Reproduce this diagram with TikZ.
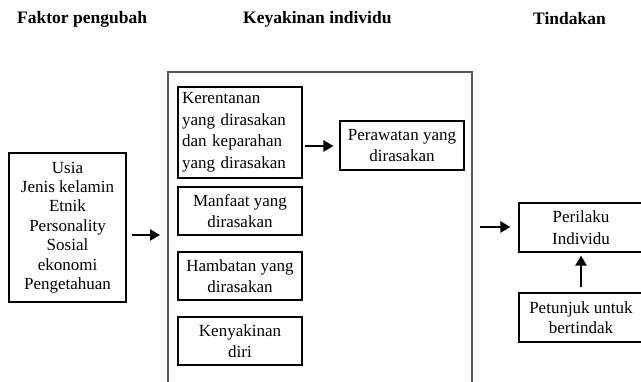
\documentclass[tikz,border=0pt]{standalone}
\usepackage{fontspec}
\setmainfont{Liberation Serif}
\usetikzlibrary{arrows.meta}
\begin{document}
\begin{tikzpicture}[x=1pt,y=-1pt,
  box/.style={draw=black, line width=1.1pt, inner sep=0pt, align=center, font=\fontsize{17}{21.5}\selectfont},
  hdr/.style={font=\fontsize{17.5}{20}\selectfont\bfseries, anchor=west, inner sep=0pt},
  arr/.style={line width=2.4pt, -{Triangle[length=10pt,width=11pt]}}]
\useasboundingbox (0,0) rectangle (641,382);
\node[hdr] (h1) at (17,19) {Faktor pengubah};
\node[hdr] (h2) at (243,19) {Keyakinan individu};
\node[hdr] (h3) at (533,19) {Tindakan};
\node[box, font=\fontsize{17}{19.4}\selectfont, minimum width=117pt, minimum height=149pt] (left) at (67.5,227.5) {Usia\\Jenis kelamin\\Etnik\\Personality\\Sosial\\ekonomi\\Pengetahuan};
\node[draw=black!65, line width=1.1pt, minimum width=304pt, minimum height=340pt, inner sep=0pt] (big) at (320,242) {};
\node[box, minimum width=124pt, minimum height=91pt, align=left, text width=116pt] (ker) at (240,132.5) {Kerentanan\\yang dirasakan\\dan keparahan\\yang dirasakan};
\node[box, minimum width=124pt, minimum height=49pt] (per) at (402,145.5) {Perawatan yang\\dirasakan};
\node[box, minimum width=124pt, minimum height=48pt] (man) at (240,211) {Manfaat yang\\dirasakan};
\node[box, minimum width=124pt, minimum height=48pt] (ham) at (240,276) {Hambatan yang\\dirasakan};
\node[box, minimum width=124pt, minimum height=48pt] (ken) at (240,341) {Kenyakinan\\diri};
\node[box, minimum width=124pt, minimum height=49pt] (pri) at (581,227.5) {Perilaku\\Individu};
\node[box, font=\fontsize{17}{20}\selectfont, minimum width=124pt, minimum height=49pt] (pet) at (581,317.5) {Petunjuk untuk\\bertindak};
\coordinate (a1) at (132,235);
\coordinate (a2) at (160,235);
\draw[arr] (a1) -- (a2);
\draw[arr] ([xshift=2pt]ker.east |- 0,146) -- ([xshift=-6pt]per.west |- 0,146);
\coordinate (a3) at (480,227);
\draw[arr] (a3) -- ([xshift=-8pt]pri.west |- a3);
\draw[arr] ([yshift=5pt]pet.north) -- ([yshift=-3pt]pri.south);
\end{tikzpicture}
\end{document}
